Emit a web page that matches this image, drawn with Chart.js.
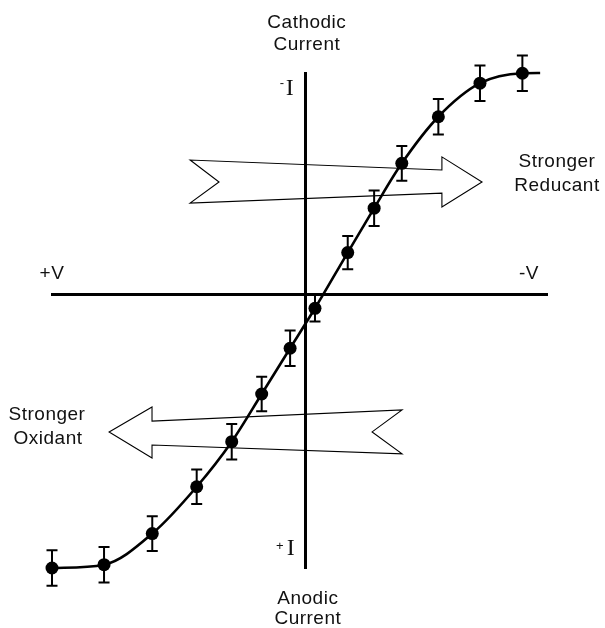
<!DOCTYPE html>
<html>
<head>
<meta charset="utf-8">
<script src="https://cdn.jsdelivr.net/npm/chart.js@4/dist/chart.umd.min.js"></script>
<style>
  html, body { margin: 0; padding: 0; background: #fff; }
  canvas { display: block; }
</style>
</head>
<body>
<canvas id="c" width="605" height="628"></canvas>
<script>
// Applied potential (V) and measured current (I) with error half-widths
const potential = [-10.0, -7.95, -6.05, -4.30, -2.92, -1.74, -0.62, 0.36, 1.65, 2.69, 3.78, 5.22, 6.86, 8.53];
const current   = [-12.30, -12.15, -10.75, -8.64, -6.61, -4.46, -2.40, -0.60, 1.91, 3.91, 5.93, 8.03, 9.54, 9.99];
const currentError = [0.8, 0.8, 0.78, 0.78, 0.8, 0.78, 0.8, 0.6, 0.75, 0.8, 0.78, 0.8, 0.8, 0.8];
// Where the fitted curve runs out past the last measurement
const curveTail = [9.23, 10.0];

// Axis captions
const potentialLabels = ['+V', '-V'];
const currentLabels = ['Cathodic', 'Current', 'Anodic', 'Current'];
const currentSigns = ['-', '+'];
const directionLabels = [['Stronger', 'Reducant'], ['Stronger', 'Oxidant']];

// Outline arrows (in V / I units): right-pointing for reductants, left-pointing for oxidants
const reducantArrowX = [-4.56, -3.42, -4.56, 5.36, 5.36, 6.94, 5.36, 5.36];
const reducantArrowY = [6.08, 5.09, 4.14, 4.59, 3.96, 5.09, 6.22, 5.63];
const oxidantArrowX = [-7.75, -6.06, -6.06, 3.79, 2.61, 3.79, -6.06, -6.06];
const oxidantArrowY = [-6.17, -5.05, -5.68, -5.18, -6.17, -7.16, -6.76, -7.34];

const measured = potential.map((v, i) => ({ x: v, y: current[i] }));
const curve = measured.concat([{ x: curveTail[0], y: curveTail[1] }]);

const FONT = '"Liberation Sans", Arial, sans-serif';

const errorBars = {
  id: 'errorBars',
  afterDatasetsDraw(chart) {
    const { ctx } = chart;
    const xs = chart.scales.x, ys = chart.scales.y;
    ctx.save();
    ctx.strokeStyle = '#000';
    ctx.lineWidth = 2;
    potential.forEach((v, i) => {
      const px = xs.getPixelForValue(v);
      const top = ys.getPixelForValue(current[i] + currentError[i]);
      const bot = ys.getPixelForValue(current[i] - currentError[i]);
      ctx.beginPath();
      ctx.moveTo(px, top); ctx.lineTo(px, bot);
      ctx.moveTo(px - 5.5, top); ctx.lineTo(px + 5.5, top);
      ctx.moveTo(px - 5.5, bot); ctx.lineTo(px + 5.5, bot);
      ctx.stroke();
    });
    ctx.restore();
  }
};

const decorations = {
  id: 'decorations',
  afterDatasetsDraw(chart) {
    const { ctx, chartArea: a } = chart;
    const xs = chart.scales.x, ys = chart.scales.y;
    const x0 = xs.getPixelForValue(0), y0 = ys.getPixelForValue(0);
    ctx.save();

    // arrows
    const outline = (ax, ay) => {
      ctx.beginPath();
      ax.forEach((v, i) => {
        const px = xs.getPixelForValue(v), py = ys.getPixelForValue(ay[i]);
        if (i === 0) ctx.moveTo(px, py); else ctx.lineTo(px, py);
      });
      ctx.closePath();
      ctx.stroke();
    };
    ctx.strokeStyle = '#000';
    ctx.lineWidth = 1.1;
    ctx.lineJoin = 'miter';
    outline(reducantArrowX, reducantArrowY);
    outline(oxidantArrowX, oxidantArrowY);

    // text
    ctx.fillStyle = '#111';
    ctx.textAlign = 'center';
    ctx.textBaseline = 'middle';
    ctx.font = '19px ' + FONT;
    if ('letterSpacing' in ctx) ctx.letterSpacing = '0.5px';
    ctx.fillText(currentLabels[0], x0 + 1, a.top - 50);
    ctx.fillText(currentLabels[1], x0 + 1, a.top - 28);
    ctx.fillText(currentLabels[2], x0 + 2, a.bottom + 31);
    ctx.fillText(currentLabels[3], x0 + 2, a.bottom + 51);

    ctx.fillText(potentialLabels[0], a.left, y0 - 21);
    ctx.fillText(potentialLabels[1], a.right - 18, y0 - 21);

    ctx.fillText(directionLabels[0][0], 557, ys.getPixelForValue(6.0));
    ctx.fillText(directionLabels[0][1], 557, ys.getPixelForValue(4.9));
    ctx.fillText(directionLabels[1][0], 47, ys.getPixelForValue(-5.4));
    ctx.fillText(directionLabels[1][1], 48, ys.getPixelForValue(-6.5));

    // current-sign markers next to the vertical axis
    if ('letterSpacing' in ctx) ctx.letterSpacing = '0px';
    ctx.font = '24px "Liberation Serif", serif';
    ctx.fillText('I', x0 - 16, a.top + 16);
    ctx.fillText('I', x0 - 15, a.bottom - 19);
    ctx.font = '13px ' + FONT;
    ctx.fillText(currentSigns[0], x0 - 24, a.top + 10);
    ctx.fillText(currentSigns[1], x0 - 26, a.bottom - 22);
    ctx.restore();
  }
};

new Chart(document.getElementById('c'), {
  type: 'line',
  data: {
    datasets: [
      {
        data: curve,
        borderColor: '#000',
        borderWidth: 2.6,
        cubicInterpolationMode: 'monotone',
        pointRadius: 0,
        fill: false,
        clip: false
      },
      {
        data: measured,
        showLine: false,
        pointRadius: 6.5,
        pointBackgroundColor: '#000',
        pointBorderColor: '#000',
        pointBorderWidth: 0,
        clip: false
      }
    ]
  },
  options: {
    responsive: false,
    animation: false,
    events: [],
    layout: { padding: { left: 52, right: 58, top: 73, bottom: 60 } },
    plugins: { legend: { display: false }, tooltip: { enabled: false } },
    scales: {
      x: {
        type: 'linear',
        min: -10, max: 9.5,
        position: { y: 0 },
        grid: { display: false },
        ticks: { display: false },
        border: { display: true, width: 3, color: '#000' }
      },
      y: {
        type: 'linear',
        min: -12.3, max: 10,
        position: { x: 0 },
        grid: { display: false },
        ticks: { display: false },
        border: { display: true, width: 3, color: '#000' }
      }
    }
  },
  plugins: [errorBars, decorations]
});
</script>
</body>
</html>
